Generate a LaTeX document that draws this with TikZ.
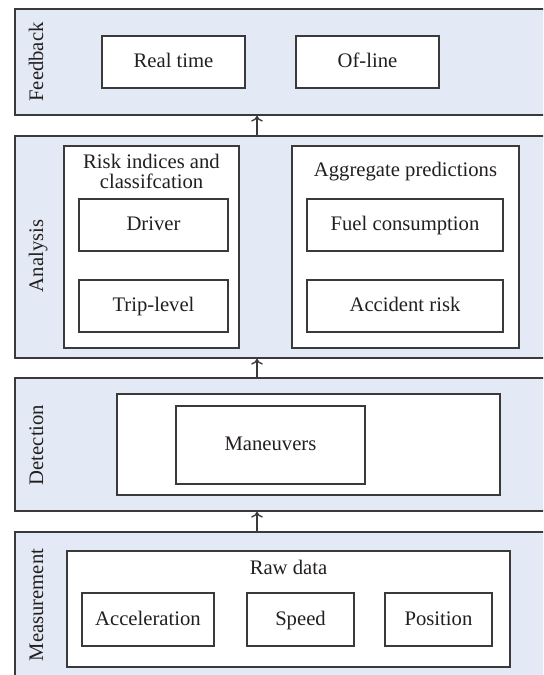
\documentclass[tikz,border=0pt]{standalone}
\usepackage{fontspec}
\usetikzlibrary{arrows.meta}
\setmainfont{Liberation Serif}
\definecolor{bandfill}{HTML}{E4EAF5}
\definecolor{linegray}{HTML}{3A3A3A}
\definecolor{txt}{HTML}{231F20}

\begin{document}
\begin{tikzpicture}[x=0.6pt, y=-0.6pt,
    every node/.style={text=txt, font=\fontsize{12.4}{14}\selectfont},
    band/.style 2 args={draw=linegray, line width=0.9pt, fill=bandfill,
        minimum width=#1*0.6pt, minimum height=#2*0.6pt, inner sep=0pt},
    boxw/.style 2 args={draw=linegray, line width=0.8pt, fill=white,
        minimum width=#1*0.6pt, minimum height=#2*0.6pt, inner sep=0pt,
        text height=9pt, text depth=2.4pt},
    layertext/.style={rotate=90, anchor=base},
    uparrow/.style={-{To[length=3.5pt, width=7pt]}, draw=linegray,
        line width=0.8pt}]
    \useasboundingbox (0,0) rectangle (543,675);
    \clip (0,0) rectangle (543,675);

    % layers
    \node[band={545}{106}] (fb) at (287.5,62) {};
    \node[band={545}{222}] (an) at (287.5,247) {};
    \node[band={545}{133}] (det) at (287.5,444.5) {};
    \node[band={545}{150}] (meas) at (287.5,607) {};

    \node[layertext] (fbl) at (43,62) {Feedback};
    \node[layertext] (anl) at (43,256) {Analysis};
    \node[layertext] (detl) at (43,445) {Detection};
    \node[layertext] (measl) at (43,605) {Measurement};

    % feedback
    \node[boxw={143}{52}] (rt) at (173.5,62) {Real time};
    \node[boxw={143}{52}] (ol) at (367.5,62) {Of-line};

    % analysis
    \node[boxw={175}{202}] (risk) at (151.5,247) {};
    \node[align=center, font=\fontsize{12.4}{11.6}\selectfont] (riskt)
        at (151.5,171.5) {Risk indices and\\classifcation};
    \node[boxw={149}{52}] (drv) at (153.5,225) {Driver};
    \node[boxw={149}{52}] (trip) at (153.5,306) {Trip-level};

    \node[boxw={227}{202}] (agg) at (405.5,247) {};
    \node (aggt) at (405.5,172) {Aggregate predictions};
    \node[boxw={196}{52}] (fuel) at (405,225) {Fuel consumption};
    \node[boxw={196}{52}] (acc) at (405,306) {Accident risk};

    % detection
    \node[boxw={383}{101}] (detin) at (308.5,444.5) {};
    \node[boxw={189}{78}] (man) at (270.5,445) {Maneuvers};

    % measurement
    \node[boxw={443}{116}] (raw) at (288.5,609) {};
    \node (rawt) at (288.5,567) {Raw data};
    \node[boxw={132}{53}] (accel) at (148,619.5) {Acceleration};
    \node[boxw={107}{53}] (spd) at (300.5,619.5) {Speed};
    \node[boxw={107}{53}] (pos) at (438.5,619.5) {Position};

    \coordinate (mid) at (257,0);
    \draw[uparrow] (meas.north -| mid) -- (det.south -| mid);
    \draw[uparrow] (det.north -| mid) -- (an.south -| mid);
    \draw[uparrow] (an.north -| mid) -- (fb.south -| mid);
  \end{tikzpicture}
\end{document}
